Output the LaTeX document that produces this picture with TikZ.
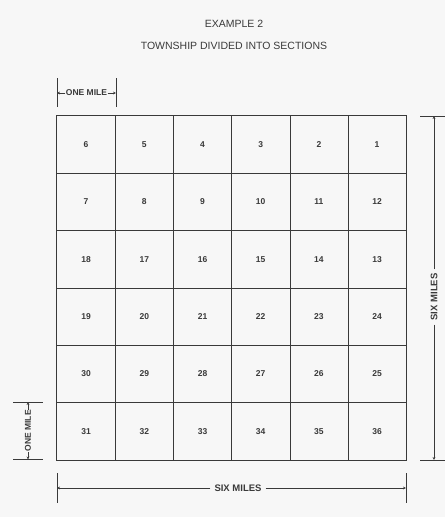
\documentclass[tikz,border=0pt]{standalone}
\usepackage{fontspec}
\setmainfont{Liberation Sans}
\usetikzlibrary{arrows.meta}
\definecolor{bg}{HTML}{F7F7F7}
\definecolor{ink}{HTML}{3A3A3A}
\begin{document}
\begin{tikzpicture}[x=1pt,y=-1pt,
  cell/.style={minimum width=58.2pt,minimum height=57.3pt,inner sep=0pt,font=\bfseries\fontsize{8.5}{9}\selectfont,text=ink},
  gridline/.style={draw=ink,line width=1pt},
  dimline/.style={draw=ink,line width=0.6pt},
  dimarrow/.style={dimline,-{Stealth[length=3pt,width=2.8pt]}},
  dimtext/.style={inner sep=1pt,font=\bfseries\fontsize{9.5}{10}\selectfont,text=ink},
  title/.style={font=\fontsize{10.5}{12}\selectfont,text=ink}]
\fill[bg] (0,0) rectangle (445,517);
\useasboundingbox (0,0) rectangle (445,517);
\node[title] (t1) at (234,24) {EXAMPLE 2};
\node[title] (t2) at (234,46) {TOWNSHIP DIVIDED INTO SECTIONS};
% grid
\foreach \r/\row in {0/{6,5,4,3,2,1},1/{7,8,9,10,11,12},2/{18,17,16,15,14,13},3/{19,20,21,22,23,24},4/{30,29,28,27,26,25},5/{31,32,33,34,35,36}}{
  \foreach \n [count=\c from 0] in \row {
    \node[cell] (c\n) at ({57+58.2*\c+29.1},{116+57.3*\r+28.65}) {\n};
  }
}
\draw[gridline] (c6.north west) rectangle (c36.south east);
\foreach \a/\b in {6/31,5/32,4/33,3/34,2/35}{
  \draw[gridline] (c\a.north east) -- (c\b.south east);
}
\foreach \a/\b in {6/1,7/12,18/13,19/24,30/25}{
  \draw[gridline] (c\a.south west) -- (c\b.south east);
}
% top ONE MILE
\coordinate (a1) at (57,78); \coordinate (a2) at (57,107);
\coordinate (b1) at (116,78); \coordinate (b2) at (116,107);
\draw[dimline] (a1) -- (a2); \draw[dimline] (b1) -- (b2);
\coordinate (ta) at (57,93); \coordinate (tb) at (116,93);
\node[dimtext,inner sep=0.3pt,font=\bfseries\fontsize{8.5}{9}\selectfont] (om1) at (86.5,93) {ONE MILE};
\draw[dimarrow] (om1.west) -- (ta);
\draw[dimarrow] (om1.east) -- (tb);
% left ONE MILE
\coordinate (l1) at (13,402); \coordinate (l2) at (43,402);
\coordinate (l3) at (13,459.5); \coordinate (l4) at (43,459.5);
\draw[dimline] (l1) -- (l2); \draw[dimline] (l3) -- (l4);
\coordinate (la) at (28,402); \coordinate (lb) at (28,459.5);
\node[dimtext,inner sep=0.3pt,rotate=90,font=\bfseries\fontsize{8.5}{9}\selectfont] (om2) at (28,430.75) {ONE MILE};
\draw[dimarrow] (om2.east) -- (la);
\draw[dimarrow] (om2.west) -- (lb);
% bottom SIX MILES
\coordinate (s1) at (57,473); \coordinate (s2) at (57,503);
\coordinate (s3) at (406,473); \coordinate (s4) at (406,503);
\draw[dimline] (s1) -- (s2); \draw[dimline] (s3) -- (s4);
\coordinate (sa) at (57,488); \coordinate (sb) at (406,488);
\node[dimtext,inner sep=4pt] (sm1) at (238,488) {SIX MILES};
\draw[dimarrow] (sm1.west) -- (sa);
\draw[dimarrow] (sm1.east) -- (sb);
% right SIX MILES
\coordinate (r1) at (420,116); \coordinate (r2) at (445,116);
\coordinate (r3) at (420,460); \coordinate (r4) at (445,460);
\draw[dimline] (r1) -- (r2); \draw[dimline] (r3) -- (r4);
\coordinate (ra) at (434,116); \coordinate (rb) at (434,460);
\node[dimtext,inner sep=4pt,rotate=90] (sm2) at (434,297) {SIX MILES};
\draw[dimarrow] (sm2.east) -- (ra);
\draw[dimarrow] (sm2.west) -- (rb);
\end{tikzpicture}
\end{document}
